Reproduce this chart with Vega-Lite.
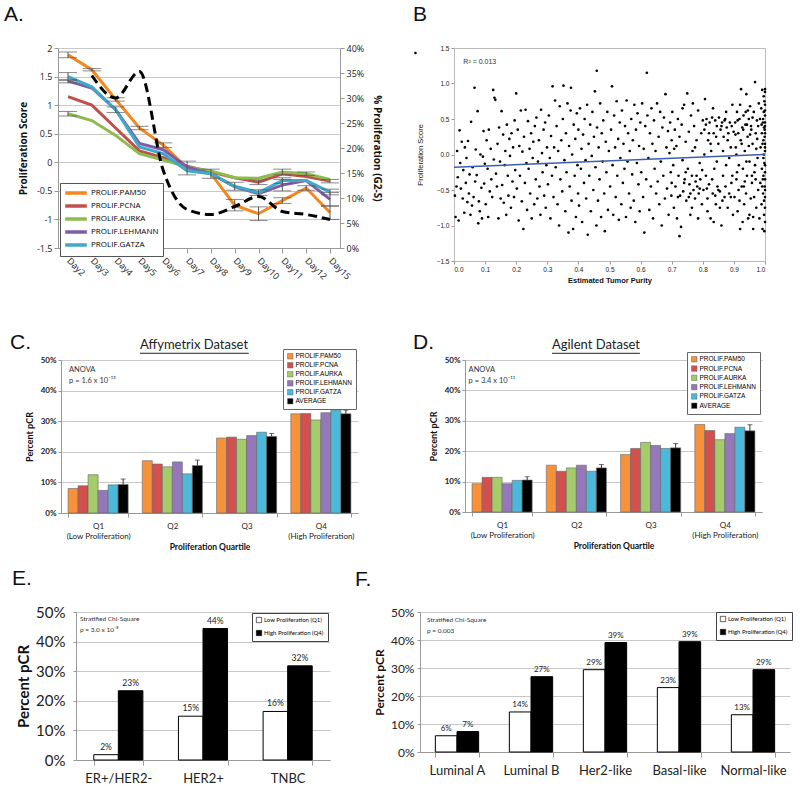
{
"$schema": "https://vega.github.io/schema/vega-lite/v6.json",
"autosize": {"type": "none"},
"padding": {"left": 58, "top": 48, "right": 742, "bottom": 744},
"background": "white",
"config": {
  "font": "Lato",
  "view": {"stroke": null},
  "axis": {"labelColor": "#222", "titleColor": "#111", "domainColor": "#999", "tickColor": "#999", "gridColor": "#c8c8c8", "labelOverlap": false},
  "title": {"font": "Liberation Sans", "fontWeight": "normal", "color": "#111", "anchor": "start", "frame": "group", "baseline": "alphabetic", "fontSize": 21}
},
"datasets": {
  "scatter": [
{"purity":0.003,"score":-0.58},{"purity":0.005,"score":-0.88},{"purity":0.008,"score":-0.45},{"purity":0.01,"score":0.05},{"purity":0.012,"score":-0.32},{"purity":0.015,"score":-0.93},{"purity":0.018,"score":0.34},{"purity":0.02,"score":-0.12},{"purity":0.022,"score":-0.48},{"purity":0.025,"score":0.18},{"purity":0.028,"score":-0.62},{"purity":0.03,"score":-0.22},{"purity":0.033,"score":-0.82},{"purity":0.035,"score":0.1},{"purity":0.038,"score":-0.4},{"purity":0.04,"score":-0.05},{"purity":0.043,"score":-0.67},{"purity":0.045,"score":0.19},{"purity":0.048,"score":-0.55},{"purity":0.05,"score":-0.28},{"purity":0.053,"score":-0.85},{"purity":0.055,"score":0.46},{"purity":0.058,"score":-0.72},{"purity":0.06,"score":-0.18},{"purity":0.063,"score":-0.6},{"purity":0.066,"score":0.94},{"purity":0.068,"score":-0.38},{"purity":0.07,"score":0.07},{"purity":0.073,"score":-0.29},{"purity":0.076,"score":0.61},{"purity":0.078,"score":-0.97},{"purity":0.08,"score":-0.66},{"purity":0.083,"score":-0.8},{"purity":0.085,"score":0.0},{"purity":0.088,"score":-0.47},{"purity":0.09,"score":-0.9},{"purity":0.093,"score":-0.03},{"purity":0.095,"score":0.33},{"purity":0.097,"score":-0.41},{"purity":0.099,"score":-0.13},
{"purity":0.102,"score":-0.7},{"purity":0.105,"score":0.2},{"purity":0.108,"score":-0.2},{"purity":0.11,"score":-0.88},{"purity":0.112,"score":0.35},{"purity":0.115,"score":-0.52},{"purity":0.118,"score":0.08},{"purity":0.12,"score":-0.35},{"purity":0.123,"score":-0.6},{"purity":0.126,"score":0.91},{"purity":0.128,"score":-0.07},{"purity":0.13,"score":0.8},{"purity":0.133,"score":0.77},{"purity":0.135,"score":-0.27},{"purity":0.138,"score":-0.45},{"purity":0.14,"score":0.15},{"purity":0.143,"score":-0.9},{"purity":0.145,"score":0.38},{"purity":0.148,"score":-0.1},{"purity":0.15,"score":-0.62},{"purity":0.153,"score":0.61},{"purity":0.155,"score":-0.43},{"purity":0.158,"score":0.28},{"purity":0.16,"score":-0.68},{"purity":0.163,"score":-0.15},{"purity":0.165,"score":0.05},{"purity":0.168,"score":-0.85},{"purity":0.17,"score":0.42},{"purity":0.173,"score":-0.3},{"purity":0.175,"score":-0.58},{"purity":0.178,"score":0.22},{"purity":0.18,"score":-0.02},{"purity":0.183,"score":-0.75},{"purity":0.185,"score":0.3},{"purity":0.188,"score":-0.38},{"purity":0.19,"score":0.1},{"purity":0.193,"score":-0.6},{"purity":0.195,"score":0.48},{"purity":0.197,"score":-0.22},{"purity":0.2,"score":0.86},
{"purity":0.202,"score":-0.48},{"purity":0.205,"score":0.35},{"purity":0.208,"score":-0.93},{"purity":0.21,"score":0.12},{"purity":0.212,"score":-0.3},{"purity":0.215,"score":0.62},{"purity":0.218,"score":-0.66},{"purity":0.22,"score":0.04},{"purity":0.223,"score":-1.05},{"purity":0.225,"score":0.25},{"purity":0.228,"score":-0.4},{"purity":0.23,"score":0.63},{"purity":0.233,"score":-0.12},{"purity":0.235,"score":-0.78},{"purity":0.238,"score":0.47},{"purity":0.24,"score":-0.2},{"purity":0.243,"score":0.08},{"purity":0.245,"score":-0.55},{"purity":0.248,"score":0.3},{"purity":0.25,"score":-0.9},{"purity":0.253,"score":-0.05},{"purity":0.255,"score":0.18},{"purity":0.258,"score":-0.7},{"purity":0.26,"score":0.4},{"purity":0.263,"score":-0.35},{"purity":0.265,"score":0.52},{"purity":0.268,"score":-0.62},{"purity":0.27,"score":-0.1},{"purity":0.273,"score":0.2},{"purity":0.275,"score":-0.45},{"purity":0.278,"score":-0.85},{"purity":0.28,"score":0.63},{"purity":0.283,"score":0.02},{"purity":0.285,"score":-0.25},{"purity":0.288,"score":0.35},{"purity":0.29,"score":-0.58},{"purity":0.293,"score":0.45},{"purity":0.295,"score":-0.75},{"purity":0.297,"score":-0.15},{"purity":0.299,"score":0.1},
{"purity":0.302,"score":-0.42},{"purity":0.305,"score":0.55},{"purity":0.308,"score":-0.05},{"purity":0.31,"score":-0.9},{"purity":0.312,"score":0.26},{"purity":0.315,"score":-0.3},{"purity":0.317,"score":0.96},{"purity":0.32,"score":-0.6},{"purity":0.322,"score":0.1},{"purity":0.325,"score":0.76},{"purity":0.327,"score":-0.18},{"purity":0.33,"score":0.4},{"purity":0.333,"score":-0.7},{"purity":0.335,"score":0.05},{"purity":0.338,"score":-1.0},{"purity":0.34,"score":0.68},{"purity":0.342,"score":-0.35},{"purity":0.345,"score":0.2},{"purity":0.348,"score":-0.52},{"purity":0.35,"score":0.5},{"purity":0.352,"score":0.97},{"purity":0.355,"score":-0.08},{"purity":0.358,"score":-0.8},{"purity":0.36,"score":0.3},{"purity":0.362,"score":-0.25},{"purity":0.365,"score":0.72},{"purity":0.368,"score":-1.1},{"purity":0.37,"score":0.12},{"purity":0.372,"score":-0.45},{"purity":0.375,"score":0.62},{"purity":0.376,"score":0.94},{"purity":0.378,"score":-0.65},{"purity":0.38,"score":0.0},{"purity":0.383,"score":-1.05},{"purity":0.385,"score":0.42},{"purity":0.388,"score":-0.3},{"purity":0.39,"score":0.22},{"purity":0.392,"score":-0.88},{"purity":0.395,"score":0.58},{"purity":0.397,"score":-0.15},{"purity":0.399,"score":-0.55},{"purity":0.4,"score":0.35},
{"purity":0.402,"score":-0.72},{"purity":0.405,"score":0.65},{"purity":0.408,"score":-0.2},{"purity":0.41,"score":0.08},{"purity":0.412,"score":-0.95},{"purity":0.415,"score":0.28},{"purity":0.418,"score":-0.4},{"purity":0.42,"score":0.5},{"purity":0.423,"score":-0.08},{"purity":0.425,"score":-0.62},{"purity":0.428,"score":0.7},{"purity":0.43,"score":-1.13},{"purity":0.433,"score":0.15},{"purity":0.435,"score":-0.3},{"purity":0.438,"score":0.42},{"purity":0.44,"score":-0.8},{"purity":0.443,"score":-0.02},{"purity":0.445,"score":0.6},{"purity":0.448,"score":-0.5},{"purity":0.45,"score":0.25},{"purity":0.453,"score":0.89},{"purity":0.455,"score":-0.18},{"purity":0.458,"score":-1.0},{"purity":0.459,"score":1.18},{"purity":0.46,"score":0.38},{"purity":0.463,"score":-0.65},{"purity":0.465,"score":0.1},{"purity":0.468,"score":-0.35},{"purity":0.47,"score":0.72},{"purity":0.473,"score":-0.88},{"purity":0.475,"score":0.3},{"purity":0.478,"score":-0.1},{"purity":0.48,"score":0.48},{"purity":0.483,"score":-0.55},{"purity":0.485,"score":-1.08},{"purity":0.488,"score":0.18},{"purity":0.49,"score":-0.25},{"purity":0.493,"score":0.6},{"purity":0.495,"score":-0.78},{"purity":0.498,"score":0.05},
{"purity":0.502,"score":-0.45},{"purity":0.505,"score":0.35},{"purity":0.508,"score":0.96},{"purity":0.51,"score":-0.15},{"purity":0.512,"score":-0.85},{"purity":0.515,"score":0.55},{"purity":0.518,"score":0.1},{"purity":0.52,"score":-0.6},{"purity":0.523,"score":0.75},{"purity":0.525,"score":-0.3},{"purity":0.528,"score":0.22},{"purity":0.53,"score":-0.92},{"purity":0.533,"score":0.45},{"purity":0.535,"score":-0.05},{"purity":0.538,"score":-0.7},{"purity":0.54,"score":0.62},{"purity":0.543,"score":-0.4},{"purity":0.545,"score":0.15},{"purity":0.548,"score":-0.2},{"purity":0.55,"score":0.4},{"purity":0.553,"score":-0.88},{"purity":0.555,"score":0.76},{"purity":0.558,"score":-0.1},{"purity":0.56,"score":0.3},{"purity":0.563,"score":-0.55},{"purity":0.565,"score":0.05},{"purity":0.568,"score":-0.75},{"purity":0.57,"score":0.5},{"purity":0.573,"score":-0.28},{"purity":0.575,"score":0.2},{"purity":0.578,"score":-0.65},{"purity":0.58,"score":0.7},{"purity":0.583,"score":-0.95},{"purity":0.585,"score":0.35},{"purity":0.588,"score":-0.12},{"purity":0.59,"score":0.58},{"purity":0.593,"score":-0.42},{"purity":0.595,"score":0.12},{"purity":0.597,"score":-0.8},{"purity":0.599,"score":0.45},
{"purity":0.602,"score":-0.25},{"purity":0.605,"score":0.72},{"purity":0.608,"score":-0.6},{"purity":0.61,"score":0.08},{"purity":0.612,"score":-1.1},{"purity":0.615,"score":0.4},{"purity":0.618,"score":-0.35},{"purity":0.62,"score":1.15},{"purity":0.622,"score":0.55},{"purity":0.625,"score":-0.05},{"purity":0.628,"score":-0.78},{"purity":0.63,"score":0.3},{"purity":0.633,"score":-0.45},{"purity":0.635,"score":0.65},{"purity":0.638,"score":0.15},{"purity":0.64,"score":-0.9},{"purity":0.643,"score":0.48},{"purity":0.645,"score":-0.2},{"purity":0.648,"score":0.05},{"purity":0.65,"score":-0.55},{"purity":0.653,"score":0.72},{"purity":0.655,"score":-0.38},{"purity":0.658,"score":0.25},{"purity":0.66,"score":-0.7},{"purity":0.663,"score":0.6},{"purity":0.665,"score":-0.1},{"purity":0.668,"score":-1.0},{"purity":0.67,"score":0.38},{"purity":0.673,"score":-0.3},{"purity":0.675,"score":0.52},{"purity":0.678,"score":-0.62},{"purity":0.68,"score":0.85},{"purity":0.683,"score":0.1},{"purity":0.685,"score":-0.48},{"purity":0.688,"score":0.33},{"purity":0.69,"score":-0.85},{"purity":0.693,"score":0.02},{"purity":0.695,"score":0.45},{"purity":0.697,"score":-0.25},{"purity":0.699,"score":-0.58},{"purity":0.7,"score":0.2},{"purity":0.7,"score":-0.4},
{"purity":0.702,"score":0.6},{"purity":0.705,"score":-0.15},{"purity":0.707,"score":-0.75},{"purity":0.71,"score":0.35},{"purity":0.712,"score":-0.45},{"purity":0.715,"score":0.12},{"purity":0.717,"score":-0.9},{"purity":0.72,"score":0.5},{"purity":0.722,"score":-0.3},{"purity":0.725,"score":0.25},{"purity":0.727,"score":-0.58},{"purity":0.73,"score":-1.02},{"purity":0.732,"score":0.42},{"purity":0.735,"score":-0.08},{"purity":0.737,"score":-0.52},{"purity":0.74,"score":0.7},{"purity":0.742,"score":-0.35},{"purity":0.745,"score":0.18},{"purity":0.747,"score":-0.65},{"purity":0.75,"score":0.86},{"purity":0.752,"score":-0.2},{"purity":0.755,"score":0.32},{"purity":0.757,"score":-0.42},{"purity":0.76,"score":-0.85},{"purity":0.762,"score":0.55},{"purity":0.765,"score":-0.3},{"purity":0.767,"score":0.05},{"purity":0.77,"score":-0.5},{"purity":0.772,"score":0.4},{"purity":0.775,"score":-0.62},{"purity":0.777,"score":-0.38},{"purity":0.78,"score":0.2},{"purity":0.782,"score":-0.45},{"purity":0.785,"score":0.62},{"purity":0.787,"score":-0.55},{"purity":0.79,"score":-0.12},{"purity":0.792,"score":-0.35},{"purity":0.795,"score":0.3},{"purity":0.797,"score":-0.7},{"purity":0.8,"score":0.48},{"purity":0.72,"score":-0.6},{"purity":0.74,"score":-0.4},{"purity":0.76,"score":-0.55},{"purity":0.78,"score":-0.3},{"purity":0.79,"score":-0.48},{"purity":0.725,"score":-1.15},{"purity":0.735,"score":0.65},{"purity":0.765,"score":-0.75},{"purity":0.775,"score":0.1},{"purity":0.785,"score":-0.9},{"purity":0.745,"score":-0.25},{"purity":0.755,"score":-0.6},{"purity":0.708,"score":0.08},{"purity":0.798,"score":-0.22},{"purity":0.768,"score":0.72},
{"purity":0.802,"score":-0.5},{"purity":0.805,"score":0.35},{"purity":0.807,"score":0.78},{"purity":0.81,"score":-0.3},{"purity":0.812,"score":0.5},{"purity":0.815,"score":-0.62},{"purity":0.817,"score":0.2},{"purity":0.82,"score":-0.42},{"purity":0.822,"score":0.45},{"purity":0.825,"score":-0.9},{"purity":0.827,"score":0.05},{"purity":0.83,"score":0.52},{"purity":0.832,"score":-0.55},{"purity":0.835,"score":0.3},{"purity":0.837,"score":-0.2},{"purity":0.84,"score":0.48},{"purity":0.842,"score":-0.7},{"purity":0.845,"score":0.4},{"purity":0.847,"score":-0.45},{"purity":0.85,"score":0.15},{"purity":0.852,"score":0.52},{"purity":0.855,"score":-0.52},{"purity":0.857,"score":0.35},{"purity":0.86,"score":-1.0},{"purity":0.862,"score":0.45},{"purity":0.865,"score":-0.3},{"purity":0.867,"score":0.25},{"purity":0.87,"score":-0.6},{"purity":0.872,"score":0.5},{"purity":0.875,"score":-0.15},{"purity":0.877,"score":0.38},{"purity":0.88,"score":-0.75},{"purity":0.882,"score":0.3},{"purity":0.885,"score":-0.55},{"purity":0.887,"score":0.45},{"purity":0.89,"score":0.1},{"purity":0.892,"score":-0.4},{"purity":0.895,"score":0.7},{"purity":0.897,"score":-0.85},{"purity":0.899,"score":0.32},{"purity":0.81,"score":0.42},{"purity":0.82,"score":0.3},{"purity":0.83,"score":-0.35},{"purity":0.84,"score":-0.58},{"purity":0.85,"score":-0.5},{"purity":0.86,"score":0.4},{"purity":0.87,"score":0.48},{"purity":0.88,"score":0.2},{"purity":0.89,"score":-0.6},{"purity":0.815,"score":-0.8},{"purity":0.835,"score":-0.95},{"purity":0.855,"score":-0.75},{"purity":0.875,"score":0.6},{"purity":0.895,"score":-0.3},{"purity":0.805,"score":0.0},{"purity":0.825,"score":0.15},{"purity":0.845,"score":-0.1},{"purity":0.865,"score":0.05},{"purity":0.885,"score":-0.05},{"purity":0.813,"score":-0.48},{"purity":0.843,"score":0.25},{"purity":0.873,"score":-0.45},{"purity":0.893,"score":0.4},{"purity":0.833,"score":0.65},{"purity":0.863,"score":-0.65},
{"purity":0.902,"score":-0.6},{"purity":0.904,"score":0.45},{"purity":0.906,"score":0.1},{"purity":0.908,"score":-0.35},{"purity":0.91,"score":0.6},{"purity":0.912,"score":-0.8},{"purity":0.914,"score":0.3},{"purity":0.916,"score":-0.15},{"purity":0.918,"score":0.5},{"purity":0.92,"score":-1.05},{"purity":0.922,"score":0.2},{"purity":0.923,"score":0.92},{"purity":0.925,"score":-0.45},{"purity":0.927,"score":0.38},{"purity":0.929,"score":-0.2},{"purity":0.931,"score":0.55},{"purity":0.933,"score":-0.7},{"purity":0.935,"score":0.05},{"purity":0.937,"score":0.42},{"purity":0.939,"score":-0.55},{"purity":0.94,"score":0.85},{"purity":0.942,"score":-0.3},{"purity":0.944,"score":0.25},{"purity":0.946,"score":-0.9},{"purity":0.948,"score":0.5},{"purity":0.95,"score":-0.1},{"purity":0.952,"score":0.68},{"purity":0.954,"score":-0.62},{"purity":0.956,"score":0.35},{"purity":0.958,"score":-0.4},{"purity":0.96,"score":0.15},{"purity":0.962,"score":-1.05},{"purity":0.964,"score":0.6},{"purity":0.966,"score":-0.25},{"purity":0.968,"score":1.02},{"purity":0.97,"score":0.3},{"purity":0.972,"score":-0.75},{"purity":0.974,"score":0.48},{"purity":0.976,"score":-0.05},{"purity":0.978,"score":-0.5},{"purity":0.905,"score":0.28},{"purity":0.915,"score":-0.5},{"purity":0.925,"score":0.15},{"purity":0.935,"score":-0.38},{"purity":0.945,"score":0.62},{"purity":0.955,"score":0.4},{"purity":0.965,"score":-0.6},{"purity":0.975,"score":0.22},{"purity":0.91,"score":-0.25},{"purity":0.93,"score":0.35},{"purity":0.95,"score":-0.85},{"purity":0.97,"score":-0.35},{"purity":0.92,"score":0.7},{"purity":0.94,"score":-0.1},{"purity":0.96,"score":0.52},{"purity":0.98,"score":0.72},{"purity":0.908,"score":0.0},{"purity":0.928,"score":-0.95},{"purity":0.948,"score":0.12},{"purity":0.968,"score":-0.15},{"purity":0.918,"score":-0.65},{"purity":0.938,"score":0.6},{"purity":0.958,"score":-0.3},{"purity":0.978,"score":0.4},{"purity":0.912,"score":0.48},{"purity":0.932,"score":-0.45},{"purity":0.952,"score":0.28},{"purity":0.972,"score":0.08},{"purity":0.942,"score":0.42},{"purity":0.962,"score":-0.88},
{"purity":0.982,"score":-0.9},{"purity":0.984,"score":0.5},{"purity":0.985,"score":-0.4},{"purity":0.986,"score":0.1},{"purity":0.988,"score":0.65},{"purity":0.989,"score":-0.7},{"purity":0.99,"score":0.3},{"purity":0.99,"score":-0.2},{"purity":0.991,"score":0.91},{"purity":0.992,"score":-1.05},{"purity":0.993,"score":0.45},{"purity":0.994,"score":-0.55},{"purity":0.995,"score":0.2},{"purity":0.995,"score":-0.3},{"purity":0.996,"score":0.6},{"purity":0.996,"score":0.0},{"purity":0.997,"score":-0.85},{"purity":0.997,"score":0.38},{"purity":0.998,"score":-0.12},{"purity":0.998,"score":0.75},{"purity":0.999,"score":-0.45},{"purity":0.999,"score":0.25},{"purity":1.0,"score":0.4},{"purity":1.0,"score":-0.6},{"purity":1.0,"score":0.05},{"purity":1.0,"score":0.88},{"purity":1.0,"score":-0.35},{"purity":1.0,"score":0.55},{"purity":1.0,"score":-0.95},{"purity":1.0,"score":0.15},{"purity":1.0,"score":0.3},{"purity":1.0,"score":-0.15},{"purity":1.0,"score":0.7},{"purity":1.0,"score":-0.75},{"purity":1.0,"score":0.45},{"purity":1.0,"score":-0.5},{"purity":1.0,"score":0.92},{"purity":1.0,"score":0.1},{"purity":1.0,"score":-0.25},{"purity":1.0,"score":0.62},{"purity":0.999,"score":0.35},{"purity":0.998,"score":-1.08},{"purity":0.997,"score":-0.65},{"purity":0.996,"score":0.82},{"purity":0.995,"score":-0.05},{"purity":0.994,"score":0.5},{"purity":0.993,"score":-0.35},{"purity":0.992,"score":0.15},{"purity":0.991,"score":-0.45},{"purity":0.989,"score":0.42},
{"purity":-0.124,"score":1.43}
  ]
},
"spacing": 0,
"bounds": "flush",
"resolve": {"scale": {"color": "independent", "xOffset": "independent"}, "legend": {"color": "independent"}},
"vconcat": [
 {
  "hconcat": [
   {
    "width": 282, "height": 200,
    "title": {"text": "A.", "dx": -54, "offset": 19},
    "layer": [
     {
      "layer": [
       {
        "data": {"values": [
{"day":"Day2","series":"PROLIF.PAM50","score":1.88},{"day":"Day3","series":"PROLIF.PAM50","score":1.62},{"day":"Day4","series":"PROLIF.PAM50","score":1.1},{"day":"Day5","series":"PROLIF.PAM50","score":0.6},{"day":"Day6","series":"PROLIF.PAM50","score":0.3},{"day":"Day7","series":"PROLIF.PAM50","score":-0.1},{"day":"Day8","series":"PROLIF.PAM50","score":-0.2},{"day":"Day9","series":"PROLIF.PAM50","score":-0.75},{"day":"Day10","series":"PROLIF.PAM50","score":-0.9},{"day":"Day11","series":"PROLIF.PAM50","score":-0.67},{"day":"Day12","series":"PROLIF.PAM50","score":-0.45},{"day":"Day15","series":"PROLIF.PAM50","score":-0.88},
{"day":"Day2","series":"PROLIF.PCNA","score":1.15},{"day":"Day3","series":"PROLIF.PCNA","score":1.0},{"day":"Day4","series":"PROLIF.PCNA","score":0.6},{"day":"Day5","series":"PROLIF.PCNA","score":0.2},{"day":"Day6","series":"PROLIF.PCNA","score":0.08},{"day":"Day7","series":"PROLIF.PCNA","score":-0.07},{"day":"Day8","series":"PROLIF.PCNA","score":-0.17},{"day":"Day9","series":"PROLIF.PCNA","score":-0.27},{"day":"Day10","series":"PROLIF.PCNA","score":-0.35},{"day":"Day11","series":"PROLIF.PCNA","score":-0.2},{"day":"Day12","series":"PROLIF.PCNA","score":-0.25},{"day":"Day15","series":"PROLIF.PCNA","score":-0.33},
{"day":"Day2","series":"PROLIF.AURKA","score":0.85},{"day":"Day3","series":"PROLIF.AURKA","score":0.73},{"day":"Day4","series":"PROLIF.AURKA","score":0.47},{"day":"Day5","series":"PROLIF.AURKA","score":0.15},{"day":"Day6","series":"PROLIF.AURKA","score":0.04},{"day":"Day7","series":"PROLIF.AURKA","score":-0.08},{"day":"Day8","series":"PROLIF.AURKA","score":-0.15},{"day":"Day9","series":"PROLIF.AURKA","score":-0.27},{"day":"Day10","series":"PROLIF.AURKA","score":-0.28},{"day":"Day11","series":"PROLIF.AURKA","score":-0.17},{"day":"Day12","series":"PROLIF.AURKA","score":-0.2},{"day":"Day15","series":"PROLIF.AURKA","score":-0.3},
{"day":"Day2","series":"PROLIF.LEHMANN","score":1.42},{"day":"Day3","series":"PROLIF.LEHMANN","score":1.3},{"day":"Day4","series":"PROLIF.LEHMANN","score":0.92},{"day":"Day5","series":"PROLIF.LEHMANN","score":0.33},{"day":"Day6","series":"PROLIF.LEHMANN","score":0.22},{"day":"Day7","series":"PROLIF.LEHMANN","score":-0.08},{"day":"Day8","series":"PROLIF.LEHMANN","score":-0.2},{"day":"Day9","series":"PROLIF.LEHMANN","score":-0.43},{"day":"Day10","series":"PROLIF.LEHMANN","score":-0.55},{"day":"Day11","series":"PROLIF.LEHMANN","score":-0.4},{"day":"Day12","series":"PROLIF.LEHMANN","score":-0.32},{"day":"Day15","series":"PROLIF.LEHMANN","score":-0.65},
{"day":"Day2","series":"PROLIF.GATZA","score":1.5},{"day":"Day3","series":"PROLIF.GATZA","score":1.32},{"day":"Day4","series":"PROLIF.GATZA","score":0.92},{"day":"Day5","series":"PROLIF.GATZA","score":0.27},{"day":"Day6","series":"PROLIF.GATZA","score":0.15},{"day":"Day7","series":"PROLIF.GATZA","score":-0.15},{"day":"Day8","series":"PROLIF.GATZA","score":-0.2},{"day":"Day9","series":"PROLIF.GATZA","score":-0.42},{"day":"Day10","series":"PROLIF.GATZA","score":-0.53},{"day":"Day11","series":"PROLIF.GATZA","score":-0.32},{"day":"Day12","series":"PROLIF.GATZA","score":-0.32},{"day":"Day15","series":"PROLIF.GATZA","score":-0.52}
        ]},
        "mark": {"type": "line", "strokeWidth": 3},
        "encoding": {
         "x": {"field": "day", "type": "ordinal", "sort": ["Day2","Day3","Day4","Day5","Day6","Day7","Day8","Day9","Day10","Day11","Day12","Day15"], "scale": {"type": "point", "padding": 0.42}, "axis": {"title": null, "labelAngle": 45, "labelAlign": "left", "labelBaseline": "middle", "labelFontSize": 9, "labelPadding": 6, "tickSize": 5, "grid": false, "labelFont": "Open Sans", "labelOverlap": false}},
         "y": {"field": "score", "type": "quantitative", "title": "Proliferation Score", "scale": {"domain": [-1.5, 2], "nice": false}, "axis": {"values": [-1.5,-1,-0.5,0,0.5,1,1.5,2], "tickCount": 30, "labelExpr": "'' + datum.value", "titleFontSize": 10, "titleFontWeight": "bold", "titleFont": "Open Sans", "labelFont": "Open Sans", "labelFontSize": 9, "grid": true, "tickSize": 4, "titlePadding": 8, "labelOverlap": false}},
         "color": {"field": "series", "type": "nominal", "scale": {"domain": ["PROLIF.PAM50","PROLIF.PCNA","PROLIF.AURKA","PROLIF.LEHMANN","PROLIF.GATZA"], "range": ["#F5871F","#C0504D","#8DBB4E","#7E5DA8","#40A8C8"]}, "legend": {"title": null, "orient": "none", "legendX": 2, "legendY": 135, "strokeColor": "#555", "fillColor": "white", "padding": 4, "symbolType": "M-1.2,0H4.2", "symbolStrokeWidth": 3.5, "symbolSize": 64, "labelFontSize": 8, "labelFont": "Open Sans", "rowPadding": -1, "labelOffset": 15}}
        }
       },
       {
        "data": {"values": [
{"day":"Day2","lo":1.83,"hi":1.93},{"day":"Day3","lo":1.6,"hi":1.64},{"day":"Day4","lo":1.07,"hi":1.13},{"day":"Day5","lo":0.57,"hi":0.63},{"day":"Day6","lo":0.26,"hi":0.34},{"day":"Day7","lo":-0.22,"hi":0.02},{"day":"Day8","lo":-0.28,"hi":-0.12},{"day":"Day9","lo":-0.85,"hi":-0.65},{"day":"Day10","lo":-1.02,"hi":-0.78},{"day":"Day11","lo":-0.72,"hi":-0.62},{"day":"Day12","lo":-0.49,"hi":-0.41},{"day":"Day15","lo":-1.0,"hi":-0.76},
{"day":"Day2","lo":1.43,"hi":1.57},{"day":"Day9","lo":-0.49,"hi":-0.35},{"day":"Day10","lo":-0.58,"hi":-0.48},{"day":"Day11","lo":-0.37,"hi":-0.27},{"day":"Day15","lo":-0.57,"hi":-0.47},
{"day":"Day2","lo":1.39,"hi":1.45},{"day":"Day4","lo":0.87,"hi":0.97},{"day":"Day11","lo":-0.5,"hi":-0.3},{"day":"Day15","lo":-0.77,"hi":-0.53},
{"day":"Day2","lo":0.81,"hi":0.89},{"day":"Day11","lo":-0.22,"hi":-0.12},{"day":"Day12","lo":-0.23,"hi":-0.17},
{"day":"Day10","lo":-0.39,"hi":-0.31},{"day":"Day15","lo":-0.36,"hi":-0.3}
        ]},
        "mark": {"type": "errorbar", "ticks": true, "color": "#555", "thickness": 1},
        "encoding": {
         "x": {"field": "day", "type": "ordinal", "sort": ["Day2","Day3","Day4","Day5","Day6","Day7","Day8","Day9","Day10","Day11","Day12","Day15"]},
         "y": {"field": "lo", "type": "quantitative", "title": "Proliferation Score", "scale": {"domain": [-1.5, 2], "nice": false}},
         "y2": {"field": "hi"}
        }
       }
      ]
     },
     {
      "data": {"values": [
{"day":"Day3","pct":0.345},{"day":"Day4","pct":0.30},{"day":"Day5","pct":0.353},{"day":"Day6","pct":0.155},{"day":"Day7","pct":0.077},{"day":"Day8","pct":0.067},{"day":"Day9","pct":0.083},{"day":"Day10","pct":0.103},{"day":"Day11","pct":0.073},{"day":"Day12","pct":0.067},{"day":"Day15","pct":0.057}
      ]},
      "mark": {"type": "line", "strokeDash": [9, 5], "strokeWidth": 3, "color": "black", "interpolate": "monotone"},
      "encoding": {
       "x": {"field": "day", "type": "ordinal", "sort": ["Day2","Day3","Day4","Day5","Day6","Day7","Day8","Day9","Day10","Day11","Day12","Day15"]},
       "y": {"field": "pct", "type": "quantitative", "title": "% Proliferation (G2-S)", "scale": {"domain": [0, 0.4], "nice": false}, "axis": {"orient": "right", "format": ".0%", "values": [0,0.05,0.1,0.15,0.2,0.25,0.3,0.35,0.4], "tickCount": 30, "grid": false, "titleFontSize": 10, "titleFontWeight": "bold", "titleFont": "Open Sans", "labelFont": "Open Sans", "labelFontSize": 9, "tickSize": 4, "titlePadding": 8, "labelOverlap": false}}
      }
     }
    ],
    "resolve": {"scale": {"y": "independent"}}
   },
   {
    "width": 311, "height": 213,
    "view": {"stroke": "#bbb"},
    "title": {"text": "B", "dx": -41, "offset": 20},
    "layer": [
     {
      "data": {"name": "scatter"},
      "mark": {"type": "circle", "size": 7, "color": "black", "opacity": 1},
      "encoding": {
       "x": {"field": "purity", "type": "quantitative", "title": "Estimated Tumor Purity", "scale": {"domain": [0, 1], "nice": false}, "axis": {"values": [0,0.1,0.2,0.3,0.4,0.5,0.6,0.7,0.8,0.9,1], "tickCount": 30, "format": ".1f", "grid": false, "labelFontSize": 6.5, "titleFontSize": 7.5, "titleFontWeight": "bold", "tickSize": 3, "labelPadding": 2, "titlePadding": 4, "labelFont": "Liberation Sans", "titleFont": "Liberation Sans", "domain": false, "labelOverlap": false}},
       "y": {"field": "score", "type": "quantitative", "title": "Proliferation Score", "scale": {"domain": [-1.5, 1.5], "nice": false}, "axis": {"values": [-1.5,-1,-0.5,0,0.5,1,1.5], "tickCount": 30, "format": ".1f", "grid": false, "labelFontSize": 6.5, "titleFontSize": 7.5, "titleFontWeight": "normal", "tickSize": 3, "labelPadding": 2, "titlePadding": 12, "labelFont": "Liberation Sans", "titleFont": "Liberation Sans", "domain": false, "labelOverlap": false}}
      }
     },
     {
      "data": {"values": [{"purity": 0, "score": -0.18}, {"purity": 1, "score": 0.0}]},
      "mark": {"type": "line", "color": "#3B5FAE", "strokeWidth": 1.5},
      "encoding": {
       "x": {"field": "purity", "type": "quantitative"},
       "y": {"field": "score", "type": "quantitative"}
      }
     },
     {
      "data": {"values": [{"label": "R² = 0.013"}]},
      "mark": {"type": "text", "align": "left", "baseline": "middle", "fontSize": 7, "font": "Liberation Sans", "color": "#333"},
      "encoding": {
       "x": {"datum": 0.03},
       "y": {"datum": 1.3},
       "text": {"field": "label"}
      }
     }
    ]
   }
  ],
  "spacing": 114,
  "bounds": "flush",
  "resolve": {"scale": {"color": "independent", "xOffset": "independent"}, "legend": {"color": "independent"}}
 },
 {"width": 1, "height": 312, "data": {"values": [{"k": 0}]}, "mark": {"type": "point", "opacity": 0}},
 {
  "hconcat": [
   {"width": 3, "height": 5, "data": {"values": [{"k": 0}]}, "mark": {"type": "point", "opacity": 0}},
   {
    "width": 297, "height": 153,
    "title": {"text": "C.", "dx": -51, "offset": 11, "dy": 25},
    "layer": [
     {
      "data": {"values": [
{"quartile":"Q1","signature":"PROLIF.PAM50","pct":0.08},{"quartile":"Q1","signature":"PROLIF.PCNA","pct":0.089},{"quartile":"Q1","signature":"PROLIF.AURKA","pct":0.125},{"quartile":"Q1","signature":"PROLIF.LEHMANN","pct":0.074},{"quartile":"Q1","signature":"PROLIF.GATZA","pct":0.092},{"quartile":"Q1","signature":"AVERAGE","pct":0.093,"hi":0.111},
{"quartile":"Q2","signature":"PROLIF.PAM50","pct":0.171},{"quartile":"Q2","signature":"PROLIF.PCNA","pct":0.16},{"quartile":"Q2","signature":"PROLIF.AURKA","pct":0.151},{"quartile":"Q2","signature":"PROLIF.LEHMANN","pct":0.167},{"quartile":"Q2","signature":"PROLIF.GATZA","pct":0.128},{"quartile":"Q2","signature":"AVERAGE","pct":0.155,"hi":0.173},
{"quartile":"Q3","signature":"PROLIF.PAM50","pct":0.245},{"quartile":"Q3","signature":"PROLIF.PCNA","pct":0.248},{"quartile":"Q3","signature":"PROLIF.AURKA","pct":0.241},{"quartile":"Q3","signature":"PROLIF.LEHMANN","pct":0.253},{"quartile":"Q3","signature":"PROLIF.GATZA","pct":0.264},{"quartile":"Q3","signature":"AVERAGE","pct":0.25,"hi":0.26},
{"quartile":"Q4","signature":"PROLIF.PAM50","pct":0.324},{"quartile":"Q4","signature":"PROLIF.PCNA","pct":0.325},{"quartile":"Q4","signature":"PROLIF.AURKA","pct":0.304},{"quartile":"Q4","signature":"PROLIF.LEHMANN","pct":0.328},{"quartile":"Q4","signature":"PROLIF.GATZA","pct":0.337},{"quartile":"Q4","signature":"AVERAGE","pct":0.324,"hi":0.336}
      ]},
      "layer": [
       {
        "mark": {"type": "bar", "stroke": "#666", "strokeWidth": 0.6},
        "encoding": {
         "x": {"field": "quartile", "type": "nominal", "title": "Proliferation Quartile", "scale": {"domain": ["Q1","Q2","Q3","Q4"], "paddingInner": 0.19, "paddingOuter": 0.095}, "axis": {"labelAngle": 0, "labelFontSize": 8, "labelExpr": "datum.value == 'Q1' ? ['Q1', '(Low Proliferation)'] : datum.value == 'Q4' ? ['Q4', '(High Proliferation)'] : datum.value", "labelLineHeight": 10, "tickBand": "extent", "labelPadding": 5, "titleFontSize": 8.5, "titleFontWeight": "bold", "titlePadding": 2, "tickSize": 4}},
         "xOffset": {"field": "signature", "scale": {"domain": ["PROLIF.PAM50","PROLIF.PCNA","PROLIF.AURKA","PROLIF.LEHMANN","PROLIF.GATZA","AVERAGE"], "range": [0, 60.1], "paddingInner": 0, "paddingOuter": 0}},
         "y": {"field": "pct", "type": "quantitative", "title": "Percent pCR", "scale": {"domain": [0, 0.5], "nice": false}, "axis": {"format": ".0%", "values": [0,0.1,0.2,0.3,0.4,0.5], "tickCount": 30, "labelFontSize": 8, "labelFontWeight": "bold", "titleFontSize": 9, "titleFontWeight": "bold", "grid": true, "tickSize": 3, "titlePadding": 6, "labelOverlap": false}},
         "color": {"field": "signature", "type": "nominal", "scale": {"domain": ["PROLIF.PAM50","PROLIF.PCNA","PROLIF.AURKA","PROLIF.LEHMANN","PROLIF.GATZA","AVERAGE"], "range": ["#F7923A","#D2504E","#A6CB6B","#9478BA","#4CB8DA","#000000"]}, "legend": {"title": null, "orient": "none", "legendX": 222, "legendY": -11, "strokeColor": "#666", "fillColor": "white", "padding": 4, "symbolType": "square", "symbolSize": 30, "symbolStrokeColor": "#666", "symbolStrokeWidth": 0.5, "labelFontSize": 6.5, "labelFont": "Liberation Sans", "rowPadding": 1, "labelOffset": 2}}
        }
       },
       {
        "transform": [{"filter": "isValid(datum.hi)"}],
        "mark": {"type": "rule", "color": "#333", "strokeWidth": 1},
        "encoding": {
         "x": {"field": "quartile", "type": "nominal"},
         "xOffset": {"field": "signature"},
         "y": {"field": "pct", "type": "quantitative"},
         "y2": {"field": "hi"}
        }
       },
       {
        "transform": [{"filter": "isValid(datum.hi)"}],
        "mark": {"type": "tick", "color": "#333", "thickness": 1, "size": 5, "orient": "horizontal"},
        "encoding": {
         "x": {"field": "quartile", "type": "nominal"},
         "xOffset": {"field": "signature"},
         "y": {"field": "hi", "type": "quantitative"}
        }
       }
      ]
     },
     {
      "data": {"values": [{"t": "ANOVA"}]},
      "mark": {"type": "text", "text": ["ANOVA", "p = 1.6 x 10⁻¹³"], "align": "left", "baseline": "top", "fontSize": 7.5, "lineHeight": 11, "color": "#333"},
      "encoding": {"x": {"datum": 0.027, "type": "quantitative", "scale": {"domain": [0, 1]}, "axis": null}, "y": {"datum": 0.48, "type": "quantitative"}}
     },
     {
      "data": {"values": [{"t": "Affymetrix Dataset"}]},
      "mark": {"type": "text", "fontSize": 13, "baseline": "middle", "color": "#222"},
      "encoding": {"x": {"datum": 0.448, "type": "quantitative", "scale": {"domain": [0, 1]}, "axis": null}, "y": {"datum": 0.548, "type": "quantitative"}, "text": {"field": "t"}}
     },
     {
      "data": {"values": [{"t": "underline"}]},
      "mark": {"type": "rule", "color": "#222", "strokeWidth": 1},
      "encoding": {"x": {"datum": 0.266, "type": "quantitative", "scale": {"domain": [0, 1]}, "axis": null}, "x2": {"datum": 0.632}, "y": {"datum": 0.522, "type": "quantitative"}}
     }
    ],
    "resolve": {"scale": {"x": "independent"}}
   },
   {"width": 107, "height": 5, "data": {"values": [{"k": 0}]}, "mark": {"type": "point", "opacity": 0}},
   {
    "width": 297, "height": 152,
    "title": {"text": "D.", "dx": -52, "offset": 11, "dy": 25},
    "layer": [
     {
      "data": {"values": [
{"quartile":"Q1","signature":"PROLIF.PAM50","pct":0.093},{"quartile":"Q1","signature":"PROLIF.PCNA","pct":0.114},{"quartile":"Q1","signature":"PROLIF.AURKA","pct":0.114},{"quartile":"Q1","signature":"PROLIF.LEHMANN","pct":0.093},{"quartile":"Q1","signature":"PROLIF.GATZA","pct":0.104},{"quartile":"Q1","signature":"AVERAGE","pct":0.105,"hi":0.116},
{"quartile":"Q2","signature":"PROLIF.PAM50","pct":0.154},{"quartile":"Q2","signature":"PROLIF.PCNA","pct":0.134},{"quartile":"Q2","signature":"PROLIF.AURKA","pct":0.145},{"quartile":"Q2","signature":"PROLIF.LEHMANN","pct":0.154},{"quartile":"Q2","signature":"PROLIF.GATZA","pct":0.134},{"quartile":"Q2","signature":"AVERAGE","pct":0.145,"hi":0.156},
{"quartile":"Q3","signature":"PROLIF.PAM50","pct":0.189},{"quartile":"Q3","signature":"PROLIF.PCNA","pct":0.209},{"quartile":"Q3","signature":"PROLIF.AURKA","pct":0.229},{"quartile":"Q3","signature":"PROLIF.LEHMANN","pct":0.219},{"quartile":"Q3","signature":"PROLIF.GATZA","pct":0.209},{"quartile":"Q3","signature":"AVERAGE","pct":0.211,"hi":0.225},
{"quartile":"Q4","signature":"PROLIF.PAM50","pct":0.288},{"quartile":"Q4","signature":"PROLIF.PCNA","pct":0.268},{"quartile":"Q4","signature":"PROLIF.AURKA","pct":0.238},{"quartile":"Q4","signature":"PROLIF.LEHMANN","pct":0.258},{"quartile":"Q4","signature":"PROLIF.GATZA","pct":0.279},{"quartile":"Q4","signature":"AVERAGE","pct":0.267,"hi":0.287}
      ]},
      "layer": [
       {
        "mark": {"type": "bar", "stroke": "#666", "strokeWidth": 0.6},
        "encoding": {
         "x": {"field": "quartile", "type": "nominal", "title": "Proliferation Quartile", "scale": {"domain": ["Q1","Q2","Q3","Q4"], "paddingInner": 0.19, "paddingOuter": 0.095}, "axis": {"labelAngle": 0, "labelFontSize": 8, "labelExpr": "datum.value == 'Q1' ? ['Q1', '(Low Proliferation)'] : datum.value == 'Q4' ? ['Q4', '(High Proliferation)'] : datum.value", "labelLineHeight": 10, "tickBand": "extent", "labelPadding": 5, "titleFontSize": 8.5, "titleFontWeight": "bold", "titlePadding": 2, "tickSize": 4}},
         "xOffset": {"field": "signature", "scale": {"domain": ["PROLIF.PAM50","PROLIF.PCNA","PROLIF.AURKA","PROLIF.LEHMANN","PROLIF.GATZA","AVERAGE"], "range": [0, 60.1], "paddingInner": 0, "paddingOuter": 0}},
         "y": {"field": "pct", "type": "quantitative", "title": "Percent pCR", "scale": {"domain": [0, 0.5], "nice": false}, "axis": {"format": ".0%", "values": [0,0.1,0.2,0.3,0.4,0.5], "tickCount": 30, "labelFontSize": 8, "labelFontWeight": "bold", "titleFontSize": 9, "titleFontWeight": "bold", "grid": true, "tickSize": 3, "titlePadding": 6, "labelOverlap": false}},
         "color": {"field": "signature", "type": "nominal", "scale": {"domain": ["PROLIF.PAM50","PROLIF.PCNA","PROLIF.AURKA","PROLIF.LEHMANN","PROLIF.GATZA","AVERAGE"], "range": ["#F7923A","#D2504E","#A6CB6B","#9478BA","#4CB8DA","#000000"]}, "legend": {"title": null, "orient": "none", "legendX": 222, "legendY": -8, "strokeColor": "#666", "fillColor": "white", "padding": 4, "symbolType": "square", "symbolSize": 30, "symbolStrokeColor": "#666", "symbolStrokeWidth": 0.5, "labelFontSize": 6.5, "labelFont": "Liberation Sans", "rowPadding": 1.3, "labelOffset": 2}}
        }
       },
       {
        "transform": [{"filter": "isValid(datum.hi)"}],
        "mark": {"type": "rule", "color": "#333", "strokeWidth": 1},
        "encoding": {
         "x": {"field": "quartile", "type": "nominal"},
         "xOffset": {"field": "signature"},
         "y": {"field": "pct", "type": "quantitative"},
         "y2": {"field": "hi"}
        }
       },
       {
        "transform": [{"filter": "isValid(datum.hi)"}],
        "mark": {"type": "tick", "color": "#333", "thickness": 1, "size": 5, "orient": "horizontal"},
        "encoding": {
         "x": {"field": "quartile", "type": "nominal"},
         "xOffset": {"field": "signature"},
         "y": {"field": "hi", "type": "quantitative"}
        }
       }
      ]
     },
     {
      "data": {"values": [{"t": "ANOVA"}]},
      "mark": {"type": "text", "text": ["ANOVA", "p = 3.4 x 10⁻¹¹"], "align": "left", "baseline": "top", "fontSize": 7.5, "lineHeight": 11, "color": "#333"},
      "encoding": {"x": {"datum": 0.012, "type": "quantitative", "scale": {"domain": [0, 1]}, "axis": null}, "y": {"datum": 0.48, "type": "quantitative"}}
     },
     {
      "data": {"values": [{"t": "Agilent Dataset"}]},
      "mark": {"type": "text", "fontSize": 13, "baseline": "middle", "color": "#222"},
      "encoding": {"x": {"datum": 0.441, "type": "quantitative", "scale": {"domain": [0, 1]}, "axis": null}, "y": {"datum": 0.548, "type": "quantitative"}, "text": {"field": "t"}}
     },
     {
      "data": {"values": [{"t": "underline"}]},
      "mark": {"type": "rule", "color": "#222", "strokeWidth": 1},
      "encoding": {"x": {"datum": 0.293, "type": "quantitative", "scale": {"domain": [0, 1]}, "axis": null}, "x2": {"datum": 0.589}, "y": {"datum": 0.522, "type": "quantitative"}}
     }
    ],
    "resolve": {"scale": {"x": "independent"}}
   }
  ],
  "spacing": 0,
  "bounds": "flush",
  "resolve": {"scale": {"color": "independent", "xOffset": "independent"}, "legend": {"color": "independent"}}
 },
 {"width": 1, "height": 252, "data": {"values": [{"k": 0}]}, "mark": {"type": "point", "opacity": 0}},
 {
  "hconcat": [
   {"width": 18, "height": 5, "data": {"values": [{"k": 0}]}, "mark": {"type": "point", "opacity": 0}},
   {
    "width": 254, "height": 148,
    "title": {"text": "E.", "dx": -64, "offset": 19, "dy": 3},
    "layer": [
     {
      "data": {"values": [
{"subtype":"ER+/HER2-","level":"Low Proliferation  (Q1)","pct":0.018},{"subtype":"ER+/HER2-","level":"High Proliferation (Q4)","pct":0.234},
{"subtype":"HER2+","level":"Low Proliferation  (Q1)","pct":0.148},{"subtype":"HER2+","level":"High Proliferation (Q4)","pct":0.444},
{"subtype":"TNBC","level":"Low Proliferation  (Q1)","pct":0.164},{"subtype":"TNBC","level":"High Proliferation (Q4)","pct":0.318}
      ]},
      "layer": [
       {
        "mark": {"type": "bar", "stroke": "black", "strokeWidth": 1},
        "encoding": {
         "x": {"field": "subtype", "type": "nominal", "title": null, "scale": {"type": "band", "domain": ["ER+/HER2-","HER2+","TNBC"], "paddingInner": 0.42, "paddingOuter": 0.21}, "axis": {"labelAngle": 0, "labelFontSize": 13, "tickBand": "extent", "labelPadding": 7, "tickSize": 5}},
         "xOffset": {"field": "level", "scale": {"type": "band", "domain": ["Low Proliferation  (Q1)","High Proliferation (Q4)"], "range": [0, 49.1], "paddingInner": 0, "paddingOuter": 0}},
         "y": {"field": "pct", "type": "quantitative", "title": "Percent pCR", "scale": {"domain": [0, 0.5], "nice": false}, "axis": {"format": ".0%", "values": [0,0.1,0.2,0.3,0.4,0.5], "tickCount": 30, "labelFontSize": 15, "titleFontSize": 15, "titleFontWeight": "bold", "grid": true, "tickSize": 3, "labelPadding": 8, "titlePadding": 4, "labelOverlap": false}},
         "color": {"field": "level", "type": "nominal", "scale": {"domain": ["Low Proliferation  (Q1)","High Proliferation (Q4)"], "range": ["white","black"]}, "legend": {"title": null, "orient": "none", "legendX": 176, "legendY": 1, "strokeColor": "#444", "fillColor": "white", "padding": 4, "symbolType": "square", "symbolSize": 28, "symbolStrokeColor": "black", "symbolStrokeWidth": 0.6, "labelFontSize": 6, "rowPadding": 5, "labelOffset": 2}}
        }
       },
       {
        "transform": [{"filter": "datum.level == 'Low Proliferation  (Q1)'"}],
        "mark": {"type": "text", "baseline": "bottom", "dy": -3, "fontSize": 8.5, "color": "#222"},
        "encoding": {
         "x": {"field": "subtype", "type": "nominal", "bandPosition": 0.25, "scale": {"type": "band"}},
         "y": {"field": "pct", "type": "quantitative"},
         "text": {"field": "pct", "type": "quantitative", "format": ".0%"}
        }
       },
       {
        "transform": [{"filter": "datum.level == 'High Proliferation (Q4)'"}],
        "mark": {"type": "text", "baseline": "bottom", "dy": -3, "fontSize": 8.5, "color": "#222"},
        "encoding": {
         "x": {"field": "subtype", "type": "nominal", "bandPosition": 0.75, "scale": {"type": "band"}},
         "y": {"field": "pct", "type": "quantitative"},
         "text": {"field": "pct", "type": "quantitative", "format": ".0%"}
        }
       }
      ]
     },
     {
      "data": {"values": [{"t": "Stratified Chi-Square"}]},
      "mark": {"type": "text", "text": ["Stratified Chi-Square", "p = 3.0 x 10⁻⁸"], "align": "left", "baseline": "top", "fontSize": 6.5, "lineHeight": 11, "color": "#333"},
      "encoding": {"x": {"datum": 0.016, "type": "quantitative", "scale": {"domain": [0, 1]}, "axis": null}, "y": {"datum": 0.485, "type": "quantitative"}}
     }
    ],
    "resolve": {"scale": {"x": "independent"}}
   },
   {"width": 90, "height": 5, "data": {"values": [{"k": 0}]}, "mark": {"type": "point", "opacity": 0}},
   {
    "width": 370, "height": 140,
    "title": {"text": "F.", "dx": -65, "offset": 19, "dy": 3},
    "layer": [
     {
      "data": {"values": [
{"subtype":"Luminal A","level":"Low Proliferation  (Q1)","pct":0.058},{"subtype":"Luminal A","level":"High Proliferation (Q4)","pct":0.073},
{"subtype":"Luminal B","level":"Low Proliferation  (Q1)","pct":0.143},{"subtype":"Luminal B","level":"High Proliferation (Q4)","pct":0.269},
{"subtype":"Her2-like","level":"Low Proliferation  (Q1)","pct":0.294},{"subtype":"Her2-like","level":"High Proliferation (Q4)","pct":0.391},
{"subtype":"Basal-like","level":"Low Proliferation  (Q1)","pct":0.23},{"subtype":"Basal-like","level":"High Proliferation (Q4)","pct":0.394},
{"subtype":"Normal-like","level":"Low Proliferation  (Q1)","pct":0.133},{"subtype":"Normal-like","level":"High Proliferation (Q4)","pct":0.294}
      ]},
      "layer": [
       {
        "mark": {"type": "bar", "stroke": "black", "strokeWidth": 1},
        "encoding": {
         "x": {"field": "subtype", "type": "nominal", "title": null, "scale": {"type": "band", "domain": ["Luminal A","Luminal B","Her2-like","Basal-like","Normal-like"], "paddingInner": 0.415, "paddingOuter": 0.2075}, "axis": {"labelAngle": 0, "labelFontSize": 13, "tickBand": "extent", "labelPadding": 7, "tickSize": 5}},
         "xOffset": {"field": "level", "scale": {"type": "band", "domain": ["Low Proliferation  (Q1)","High Proliferation (Q4)"], "range": [0, 43.3], "paddingInner": 0, "paddingOuter": 0}},
         "y": {"field": "pct", "type": "quantitative", "title": "Percent pCR", "scale": {"domain": [0, 0.5], "nice": false}, "axis": {"format": ".0%", "values": [0,0.1,0.2,0.3,0.4,0.5], "tickCount": 30, "labelFontSize": 12, "titleFontSize": 12, "titleFontWeight": "bold", "grid": true, "tickSize": 3, "labelPadding": 3, "titlePadding": 4, "labelOverlap": false}},
         "color": {"field": "level", "type": "nominal", "scale": {"domain": ["Low Proliferation  (Q1)","High Proliferation (Q4)"], "range": ["white","black"]}, "legend": {"title": null, "orient": "none", "legendX": 296, "legendY": 0, "strokeColor": "#444", "fillColor": "white", "padding": 4, "symbolType": "square", "symbolSize": 28, "symbolStrokeColor": "black", "symbolStrokeWidth": 0.6, "labelFontSize": 6, "rowPadding": 5, "labelOffset": 2}}
        }
       },
       {
        "transform": [{"filter": "datum.level == 'Low Proliferation  (Q1)'"}],
        "mark": {"type": "text", "baseline": "bottom", "dy": -3, "fontSize": 8, "color": "#222"},
        "encoding": {
         "x": {"field": "subtype", "type": "nominal", "bandPosition": 0.25, "scale": {"type": "band"}},
         "y": {"field": "pct", "type": "quantitative"},
         "text": {"field": "pct", "type": "quantitative", "format": ".0%"}
        }
       },
       {
        "transform": [{"filter": "datum.level == 'High Proliferation (Q4)'"}],
        "mark": {"type": "text", "baseline": "bottom", "dy": -3, "fontSize": 8, "color": "#222"},
        "encoding": {
         "x": {"field": "subtype", "type": "nominal", "bandPosition": 0.75, "scale": {"type": "band"}},
         "y": {"field": "pct", "type": "quantitative"},
         "text": {"field": "pct", "type": "quantitative", "format": ".0%"}
        }
       }
      ]
     },
     {
      "data": {"values": [{"t": "Stratified Chi-Square"}]},
      "mark": {"type": "text", "text": ["Stratified Chi-Square", "p = 0.003"], "align": "left", "baseline": "top", "fontSize": 6.5, "lineHeight": 11, "color": "#333"},
      "encoding": {"x": {"datum": 0.019, "type": "quantitative", "scale": {"domain": [0, 1]}, "axis": null}, "y": {"datum": 0.482, "type": "quantitative"}}
     }
    ],
    "resolve": {"scale": {"x": "independent"}}
   }
  ],
  "spacing": 0,
  "bounds": "flush",
  "resolve": {"scale": {"color": "independent", "xOffset": "independent"}, "legend": {"color": "independent"}}
 }
]
}
